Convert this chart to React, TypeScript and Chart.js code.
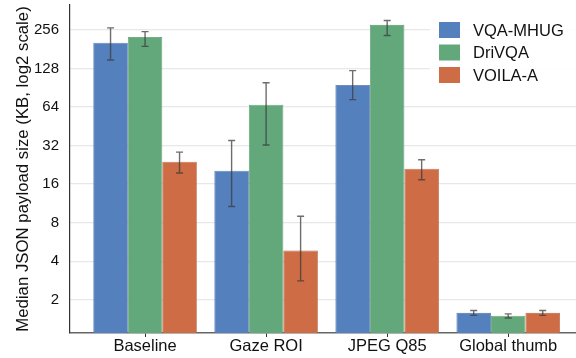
import React, { useEffect, useRef } from "react";
import { Chart, registerables } from "chart.js";

Chart.register(...registerables);

const CATEGORIES = ["Baseline", "Gaze ROI", "JPEG Q85", "Global thumb"];
const SERIES_NAMES = ["VQA-MHUG", "DriVQA", "VOILA-A"];
const VQA_MHUG = [203, 20.3, 95, 1.58];
const VQA_MHUG_LOW = [149, 10.7, 73, 1.51];
const VQA_MHUG_HIGH = [265, 35, 123, 1.65];
const DRIVQA = [225, 66.6, 280, 1.5];
const DRIVQA_LOW = [190, 32.3, 231, 1.44];
const DRIVQA_HIGH = [248, 99, 303, 1.55];
const VOILA_A = [23.9, 4.84, 21.1, 1.58];
const VOILA_A_LOW = [19.5, 2.81, 17.3, 1.51];
const VOILA_A_HIGH = [28.4, 8.96, 24.8, 1.65];
const Y_TICKS = [2, 4, 8, 16, 32, 64, 128, 256];

const COLORS = ["#5480be", "#62a87a", "#cd6c45"];
const BORDERS = ["#4a72ab", "#57986d", "#b9603c"];

const VALUES = [VQA_MHUG, DRIVQA, VOILA_A];
const LOWS = [VQA_MHUG_LOW, DRIVQA_LOW, VOILA_A_LOW];
const HIGHS = [VQA_MHUG_HIGH, DRIVQA_HIGH, VOILA_A_HIGH];

const FONT = "'Liberation Sans', Arial, sans-serif";

const errorBarPlugin = {
  id: "errorBars",
  afterDatasetsDraw(chart: any) {
    const ctx = chart.ctx;
    const yScale = chart.scales.y;
    ctx.save();
    ctx.strokeStyle = "rgba(60,60,60,0.75)";
    ctx.lineWidth = 1.4;
    chart.data.datasets.forEach((ds: any, di: number) => {
      const meta = chart.getDatasetMeta(di);
      meta.data.forEach((bar: any, i: number) => {
        const x = bar.x;
        const yl = yScale.getPixelForValue(LOWS[di][i]);
        const yh = yScale.getPixelForValue(HIGHS[di][i]);
        ctx.beginPath();
        ctx.moveTo(x, yl);
        ctx.lineTo(x, yh);
        ctx.moveTo(x - 3.5, yl);
        ctx.lineTo(x + 3.5, yl);
        ctx.moveTo(x - 3.5, yh);
        ctx.lineTo(x + 3.5, yh);
        ctx.stroke();
      });
    });
    ctx.restore();
  },
};

const legendPlugin = {
  id: "customLegend",
  afterDraw(chart: any) {
    const ctx = chart.ctx;
    ctx.save();
    ctx.fillStyle = "rgba(255,255,255,0.9)";
    ctx.fillRect(430, 10, 150, 82);
    const ys = [30, 52.5, 75];
    SERIES_NAMES.forEach((name, i) => {
      ctx.fillStyle = COLORS[i];
      ctx.fillRect(439, ys[i] - 8, 21, 16);
      ctx.fillStyle = "#111";
      ctx.font = `16.5px ${FONT}`;
      ctx.textBaseline = "middle";
      ctx.textAlign = "left";
      ctx.fillText(name, 473, ys[i] + 1);
    });
    ctx.restore();
  },
};

export default function App() {
  const ref = useRef<HTMLCanvasElement>(null);
  useEffect(() => {
    document.body.style.margin = "0";
    const chart = new Chart(ref.current as HTMLCanvasElement, {
      type: "bar",
      data: {
        datasets: SERIES_NAMES.map((name, di) => ({
          label: name,
          data: CATEGORIES.map((_, i) => ({ x: i, y: VALUES[di][i] })),
          backgroundColor: COLORS[di],
          borderColor: BORDERS[di],
          borderWidth: 0.8,
          categoryPercentage: 0.855,
          barPercentage: 1,
        })),
      },
      options: {
        animation: false,
        responsive: false,
        layout: { padding: { top: 5, right: 0, left: 0, bottom: 0 } },
        plugins: {
          legend: { display: false },
          tooltip: { enabled: false },
        },
        scales: {
          x: {
            type: "linear",
            offset: false,
            min: -0.62,
            max: 3.56,
            afterBuildTicks(scale: any) {
              scale.ticks = CATEGORIES.map((_, i) => ({ value: i }));
            },
            afterFit(scale: any) {
              scale.height = 25;
              scale.paddingLeft = 0;
              scale.paddingRight = 0;
            },
            grid: {
              offset: false,
              drawOnChartArea: false,
              drawTicks: true,
              tickLength: 4,
              color: "#333",
            },
            border: { display: true, color: "#666", width: 1.5 },
            ticks: {
              padding: 0,
              color: "#111",
              font: { family: FONT, size: 16.5 },
              maxRotation: 0,
              autoSkip: false,
              callback: (v: any) => CATEGORIES[v] ?? "",
            },
          },
          y: {
            type: "logarithmic",
            min: 1.1,
            max: 400,
            afterBuildTicks(scale: any) {
              scale.ticks = Y_TICKS.map((v) => ({ value: v }));
            },
            afterFit(scale: any) {
              scale.width = 70;
              scale.paddingTop = 0;
              scale.paddingBottom = 0;
            },
            grid: {
              color: "#e6e8ec",
              lineWidth: 1.2,
              drawTicks: false,
            },
            border: { display: true, color: "#333", width: 1.2 },
            ticks: {
              padding: 11,
              color: "#111",
              font: { family: FONT, size: 15 },
              callback: (v: any) => String(v),
            },
            title: {
              display: true,
              text: "Median JSON payload size (KB, log2 scale)",
              color: "#111",
              font: { family: FONT, size: 16.8 },
              padding: { top: 13, bottom: 0 },
            },
          },
        },
      },
      plugins: [errorBarPlugin, legendPlugin],
    });
    return () => chart.destroy();
  }, []);
  return (
    <div style={{ width: 576, height: 358 }}>
      <canvas ref={ref} width={576} height={358} style={{ display: "block" }} />
    </div>
  );
}
